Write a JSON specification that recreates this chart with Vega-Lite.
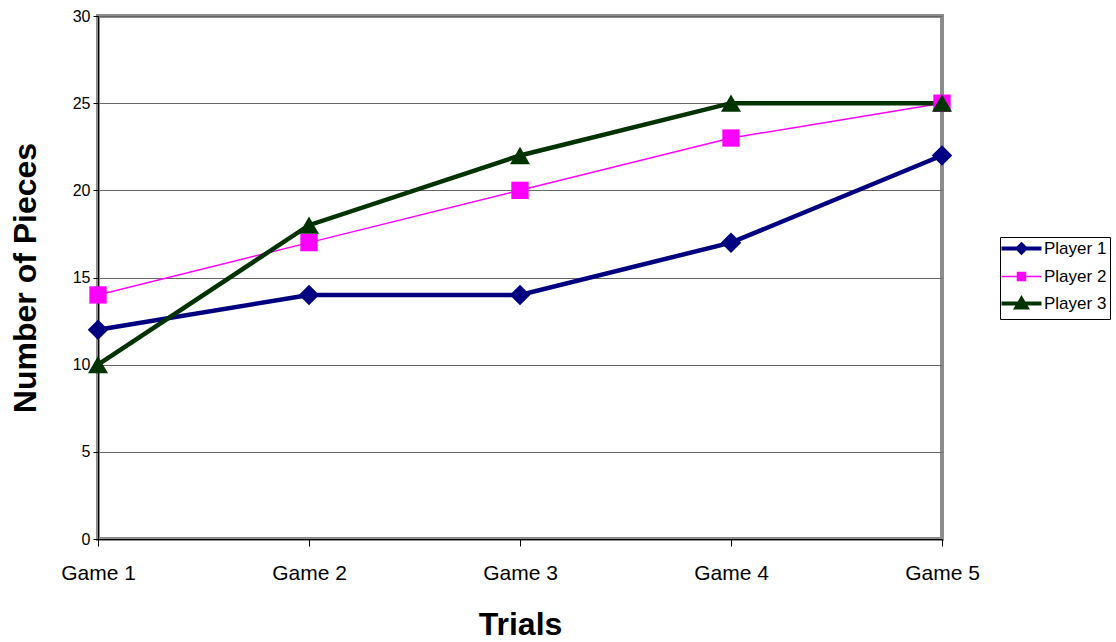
{
  "$schema": "https://vega.github.io/schema/vega-lite/v6.json",
  "width": 844,
  "height": 523,
  "autosize": "none",
  "padding": {"left": 98, "top": 16, "right": 174, "bottom": 103},
  "background": "white",
  "config": {
    "font": "Liberation Sans",
    "view": {"stroke": "#8c8c8c", "strokeWidth": 4}
  },
  "data": {
    "values": [
      {"game": "Game 1", "player": "Player 1", "pieces": 12},
      {"game": "Game 2", "player": "Player 1", "pieces": 14},
      {"game": "Game 3", "player": "Player 1", "pieces": 14},
      {"game": "Game 4", "player": "Player 1", "pieces": 17},
      {"game": "Game 5", "player": "Player 1", "pieces": 22},
      {"game": "Game 1", "player": "Player 2", "pieces": 14},
      {"game": "Game 2", "player": "Player 2", "pieces": 17},
      {"game": "Game 3", "player": "Player 2", "pieces": 20},
      {"game": "Game 4", "player": "Player 2", "pieces": 23},
      {"game": "Game 5", "player": "Player 2", "pieces": 25},
      {"game": "Game 1", "player": "Player 3", "pieces": 10},
      {"game": "Game 2", "player": "Player 3", "pieces": 18},
      {"game": "Game 3", "player": "Player 3", "pieces": 22},
      {"game": "Game 4", "player": "Player 3", "pieces": 25},
      {"game": "Game 5", "player": "Player 3", "pieces": 25}
    ]
  },
  "encoding": {
    "x": {
      "field": "game", "type": "ordinal",
      "scale": {"type": "point", "padding": 0},
      "axis": {
        "title": "Trials", "labelAngle": 0, "labelFontSize": 21, "labelColor": "black",
        "labelPadding": 16, "tickSize": 7, "tickColor": "black", "domainColor": "black",
        "titleFontSize": 32, "titleFontWeight": "bold", "titleColor": "black",
        "titleY": 95, "titleBaseline": "alphabetic", "grid": false
      }
    },
    "y": {
      "field": "pieces", "type": "quantitative",
      "scale": {"domain": [0, 30], "nice": false},
      "axis": {
        "title": "Number of Pieces", "values": [0, 5, 10, 15, 20, 25, 30],
        "labelFontSize": 16, "labelColor": "black", "labelPadding": 3,
        "tickSize": 5, "tickColor": "black", "domainColor": "black",
        "gridColor": "#666666", "gridWidth": 1,
        "titleFontSize": 32, "titleFontWeight": "bold", "titleColor": "black",
        "titleX": -63, "titleY": 261.5, "titleAngle": -90, "titleAlign": "center", "titleBaseline": "alphabetic"
      }
    }
  },
  "resolve": {"legend": {"color": "independent"}},
  "layer": [
    {
      "mark": {"type": "line"},
      "encoding": {
        "color": {
          "field": "player", "type": "nominal",
          "scale": {"domain": ["Player 1", "Player 2", "Player 3"], "range": ["#000080", "#ff00ff", "#003300"]},
          "legend": null
        },
        "strokeWidth": {
          "condition": {"test": "datum.player === 'Player 2'", "value": 1.5},
          "value": 4.5
        }
      }
    },
    {
      "mark": {"type": "point", "filled": true, "opacity": 1},
      "encoding": {
        "color": {
          "field": "player", "type": "nominal",
          "scale": {"domain": ["Player 1", "Player 2", "Player 3"], "range": ["#000080", "#ff00ff", "#003300"]},
          "legend": {
            "orient": "none", "legendX": 902, "legendY": 221, "title": null,
            "strokeColor": "black", "fillColor": "white", "padding": 3,
            "symbolSize": 400, "symbolOffset": 10, "labelOffset": 14, "rowPadding": 6,
            "labelFontSize": 17, "labelColor": "black",
            "symbolType": {"expr": "datum.value === 'Player 1' ? 'M-2,0H2M0,-0.4L0.4,0L0,0.4L-0.4,0Z' : datum.value === 'Player 2' ? 'M-2,0H2M-0.4,-0.4H0.4V0.4H-0.4Z' : 'M-2,0H2M0,-0.45L0.5,0.4H-0.5Z'"},
            "symbolStrokeWidth": {"expr": "datum.value === 'Player 2' ? 1.5 : 4"},
            "symbolStrokeColor": {"expr": "scale('color', datum.value)"},
            "symbolOpacity": 1
          }
        },
        "shape": {
          "field": "player", "type": "nominal",
          "scale": {"domain": ["Player 1", "Player 2", "Player 3"], "range": ["diamond", "square", "triangle-up"]},
          "legend": null
        },
        "size": {
          "condition": [
            {"test": "datum.player === 'Player 1'", "value": 420},
            {"test": "datum.player === 'Player 2'", "value": 300}
          ],
          "value": 400
        }
      }
    }
  ]
}
